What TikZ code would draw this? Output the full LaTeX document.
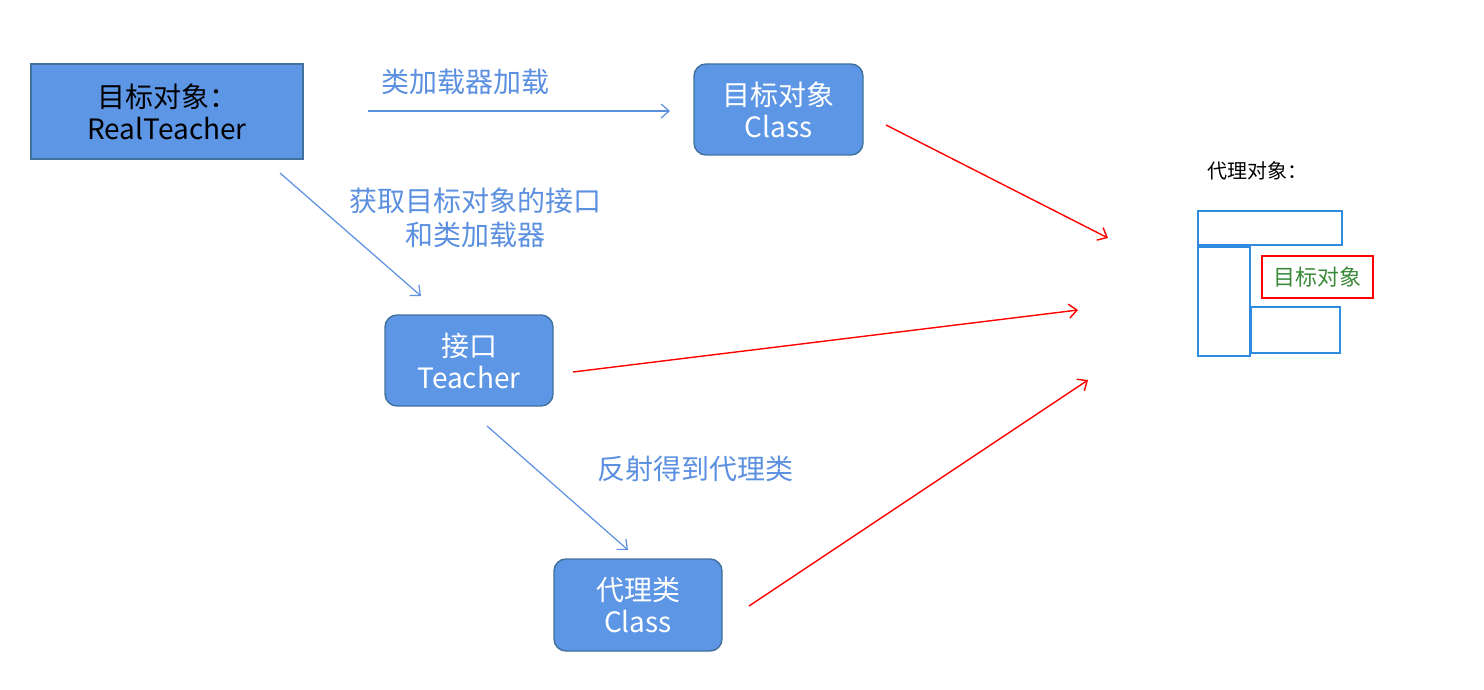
\documentclass[tikz,border=0pt]{standalone}
\usepackage{fontspec}
\setmainfont{Noto Sans CJK SC}
\usetikzlibrary{arrows.meta}
\definecolor{boxblue}{HTML}{5E96E6}
\definecolor{boxedge}{HTML}{41719C}
\definecolor{lineblue}{HTML}{5B8FE0}
\definecolor{frameblue}{HTML}{2E8BE0}
\definecolor{txtgreen}{HTML}{3A8A3A}
\tikzset{
  box/.style={draw=boxedge,fill=boxblue,line width=0.7pt,font=\fontsize{14}{16}\selectfont,align=center,inner sep=0pt},
  rbox/.style={box,rounded corners=6pt,text=white},
  bluearrow/.style={draw=lineblue,line width=0.6pt,-{Straight Barb[length=4pt,width=7pt]}},
  redarrow/.style={draw=red,line width=0.7pt,-{Straight Barb[length=4pt,width=7pt]}},
  lbl/.style={text=lineblue,font=\fontsize{14}{17}\selectfont,align=center},
  frame/.style={draw=frameblue,line width=1pt}
}
\begin{document}
\begin{tikzpicture}[x=0.5pt,y=-0.5pt]
  \useasboundingbox (0,0) rectangle (1484,690);
  %% Nodes
  \node[box,minimum width=136pt,minimum height=47.5pt] (target) at (167,111.5) {目标对象：\\RealTeacher};
  \node[rbox,minimum width=84.5pt,minimum height=45.5pt] (tclass) at (778.5,109.5) {目标对象\\Class};
  \node[rbox,minimum width=84pt,minimum height=45.5pt] (iface) at (469,360.5) {接口\\Teacher};
  \node[rbox,minimum width=84pt,minimum height=46pt] (pclass) at (638,605) {代理类\\Class};

  %% Blue arrows with labels
  \coordinate (a1s) at (368,111); \coordinate (a1e) at (670,111);
  \coordinate (a2s) at (280,173); \coordinate (a2e) at (421,296);
  \coordinate (a3s) at (487,426); \coordinate (a3e) at (628,550);
  \draw[bluearrow] (a1s) -- (a1e);
  \draw[bluearrow] (a2s) -- (a2e);
  \draw[bluearrow] (a3s) -- (a3e);
  \node[lbl] (l1) at (465,82) {类加载器加载};
  \node[lbl] (l2) at (475,218) {获取目标对象的接口\\和类加载器};
  \node[lbl] (l3) at (695,469) {反射得到代理类};

  %% Red arrows
  \coordinate (r1s) at (886,125); \coordinate (r1e) at (1108,238);
  \coordinate (r2s) at (573,372); \coordinate (r2e) at (1078,310);
  \coordinate (r3s) at (749,606); \coordinate (r3e) at (1088,380);
  \draw[redarrow] (r1s) -- (r1e);
  \draw[redarrow] (r2s) -- (r2e);
  \draw[redarrow] (r3s) -- (r3e);

  %% Proxy object
  \node[font=\fontsize{10}{12}\selectfont] (ptitle) at (1257,171) {代理对象：};
  \draw[frame] (1198,211) rectangle (1342,245);
  \draw[frame] (1198,247) rectangle (1250,356);
  \draw[frame] (1251,307) rectangle (1340,353);
  \node[draw=red,line width=1pt,text=txtgreen,font=\fontsize{11}{13}\selectfont,
        minimum width=55.5pt,minimum height=21pt,inner sep=0pt] (inner) at (1317.5,277) {目标对象};
\end{tikzpicture}
\end{document}
